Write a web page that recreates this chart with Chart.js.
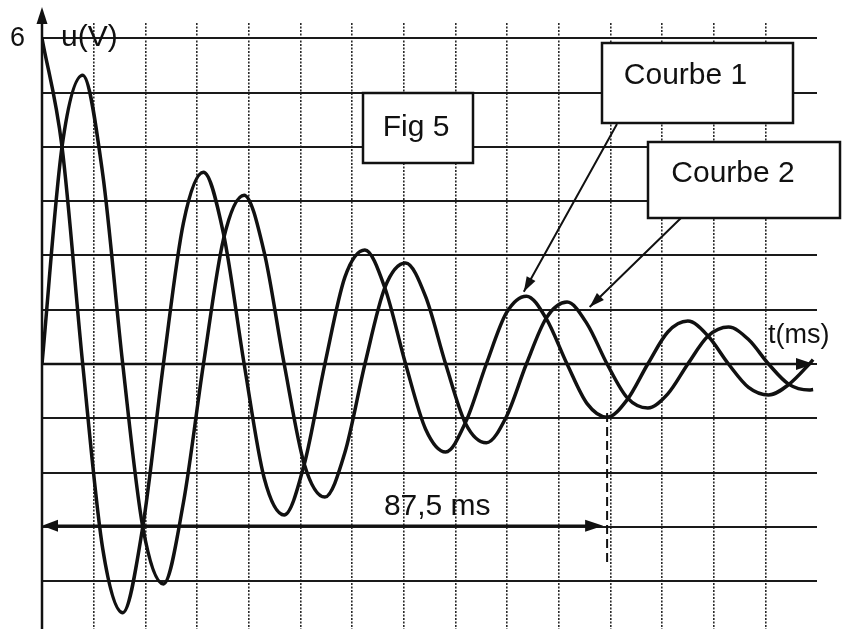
<!DOCTYPE html>
<html>
<head>
<meta charset="utf-8">
<script src="https://cdn.jsdelivr.net/npm/chart.js@4.4.1/dist/chart.umd.min.js"></script>
<style>
  html, body { margin: 0; padding: 0; background: #fff; }
  canvas { display: block; }
</style>
</head>
<body>
<canvas id="myChart" width="844" height="629"></canvas>
<script>
// temps (ms) et tensions
const timeMs = [0, 3.1, 6.3, 9.4, 12.5, 15.6, 18.8, 21.9, 25, 28.1, 31.3, 34.4, 37.5, 40.6, 43.8, 46.9,
    50, 53.1, 56.3, 59.4, 62.5, 65.6, 68.8, 71.9, 75, 78.1, 81.3, 84.4, 87.5, 90.6, 93.8, 96.9,
    100, 103.1, 106.3, 109.4, 112.5, 115.6, 118.8, 119.4];
const courbe1 = [6.0, 4.0, 0, -3.4, -4.58, -3.0, 0, 2.6, 3.53, 2.4, 0, -2.1, -2.78, -1.85, 0, 1.6,
    2.1, 1.4, 0, -1.2, -1.62, -1.07, 0, 0.94, 1.25, 0.83, 0, -0.73, -0.98, -0.66, 0, 0.59,
    0.79, 0.52, 0, -0.43, -0.57, -0.38, 0, 0.08];
const courbe2 = [0, 4.0, 5.32, 3.5, 0, -3.0, -4.05, -2.55, 0, 2.3, 3.11, 2.06, 0, -1.84, -2.45, -1.63,
    0, 1.41, 1.86, 1.24, 0, -1.1, -1.45, -0.97, 0, 0.85, 1.14, 0.74, 0, -0.62, -0.81, -0.55,
    0, 0.51, 0.68, 0.45, 0, -0.37, -0.48, -0.47];
const uTicks = [-4, -3, -2, -1, 0, 1, 2, 3, 4, 5, 6];
const tTicks = [8, 16, 24, 32, 40, 48, 56, 64, 72, 80, 88, 96, 104, 112];
const dureeMs = 87.5;

const FONT = '"Liberation Sans", Arial, sans-serif';
const INK = '#111';

function arrowHead(ctx, x1, y1, x2, y2, len, half) {
    const a = Math.atan2(y2 - y1, x2 - x1);
    ctx.beginPath();
    ctx.moveTo(x2, y2);
    ctx.lineTo(x2 - len * Math.cos(a) + half * Math.sin(a), y2 - len * Math.sin(a) - half * Math.cos(a));
    ctx.lineTo(x2 - len * Math.cos(a) - half * Math.sin(a), y2 - len * Math.sin(a) + half * Math.cos(a));
    ctx.closePath();
    ctx.fill();
}

// cadre blanc avec texte (dx, dy : decalage du texte comme sur le scan)
function box(ctx, x, y, w, h, label, dx, dy) {
    ctx.fillStyle = '#fff';
    ctx.fillRect(x, y, w, h);
    ctx.lineWidth = 2.5;
    ctx.strokeStyle = INK;
    ctx.strokeRect(x, y, w, h);
    ctx.fillStyle = INK;
    ctx.font = '30px ' + FONT;
    ctx.textAlign = 'center';
    ctx.textBaseline = 'middle';
    ctx.fillText(label, x + w / 2 + dx, y + h / 2 + dy);
}

const figure = {
    id: 'figure',
    afterDatasetsDraw(chart) {
        const ctx = chart.ctx;
        const x = chart.scales.x, y = chart.scales.y;
        const x0 = x.getPixelForValue(0), y0 = y.getPixelForValue(0);
        ctx.save();
        ctx.strokeStyle = INK;
        ctx.fillStyle = INK;

        // axe u(V)
        ctx.lineWidth = 2.5;
        ctx.beginPath();
        ctx.moveTo(x0, chart.chartArea.bottom);
        ctx.lineTo(x0, 14);
        ctx.stroke();
        arrowHead(ctx, x0, 40, x0, 7, 17, 5.5);

        // axe t(ms)
        ctx.beginPath();
        ctx.moveTo(x0, y0);
        ctx.lineTo(808, y0);
        ctx.stroke();
        arrowHead(ctx, 780, y0, 814, y0, 18, 6);

        ctx.textAlign = 'left';
        ctx.textBaseline = 'middle';
        ctx.font = '27px ' + FONT;
        ctx.fillText('6', 10, y.getPixelForValue(6));
        ctx.font = '30px ' + FONT;
        ctx.fillText('u(V)', 61, y.getPixelForValue(6));
        ctx.font = '27px ' + FONT;
        ctx.fillText('t(ms)', 768, 336);

        // 87,5 ms
        const xe = x.getPixelForValue(dureeMs);
        const ya = y.getPixelForValue(-2.98);
        ctx.lineWidth = 2.5;
        ctx.beginPath();
        ctx.moveTo(x0 + 6, ya);
        ctx.lineTo(xe - 10, ya);
        ctx.stroke();
        arrowHead(ctx, xe, ya, x0, ya, 16, 6);
        arrowHead(ctx, x0, ya, xe - 4, ya, 18, 6);
        ctx.font = '30px ' + FONT;
        ctx.textAlign = 'center';
        ctx.fillText('87,5 ms', x.getPixelForValue(61.2), y.getPixelForValue(-2.63));

        ctx.lineWidth = 2;
        ctx.setLineDash([9, 5]);
        ctx.beginPath();
        ctx.moveTo(xe, y.getPixelForValue(-0.9));
        ctx.lineTo(xe, y.getPixelForValue(-3.65));
        ctx.stroke();
        ctx.setLineDash([]);

        // fleches vers les courbes
        const c1 = [x.getPixelForValue(74.6), y.getPixelForValue(1.33)];
        const c2 = [x.getPixelForValue(84.8), y.getPixelForValue(1.05)];
        ctx.lineWidth = 2;
        ctx.beginPath();
        ctx.moveTo(617, 124);
        ctx.lineTo(c1[0], c1[1]);
        ctx.moveTo(681, 218);
        ctx.lineTo(c2[0], c2[1]);
        ctx.stroke();
        arrowHead(ctx, 617, 124, c1[0], c1[1], 15, 5);
        arrowHead(ctx, 681, 218, c2[0], c2[1], 15, 5);

        box(ctx, 363, 93, 110, 70, 'Fig 5', -2, 0);
        box(ctx, 602, 43, 191, 80, 'Courbe 1', -12, -7);
        box(ctx, 648, 142, 192, 76, 'Courbe 2', -11, -6);
        ctx.restore();
    }
};

const ctx = document.getElementById('myChart').getContext('2d');
const chart = new Chart(ctx, {
    type: 'line',
    data: {
        datasets: [{
            label: 'Courbe 1',
            data: timeMs.map((t, i) => ({ x: t, y: courbe1[i] })),
            borderColor: INK,
            borderWidth: 3.5,
            pointRadius: 0,
            cubicInterpolationMode: 'monotone',
            fill: false
        }, {
            label: 'Courbe 2',
            data: timeMs.map((t, i) => ({ x: t, y: courbe2[i] })),
            borderColor: INK,
            borderWidth: 3.5,
            pointRadius: 0,
            cubicInterpolationMode: 'monotone',
            fill: false
        }]
    },
    options: {
        responsive: false,
        animation: false,
        layout: { padding: { left: 42, top: 23, right: 27, bottom: 0 } },
        plugins: {
            legend: { display: false },
            tooltip: { enabled: false }
        },
        scales: {
            x: {
                type: 'linear',
                min: 0,
                max: 120,
                afterBuildTicks: s => { s.ticks = tTicks.map(v => ({ value: v })); },
                ticks: { display: false },
                grid: { color: '#2a2a2a', lineWidth: 1.6, drawTicks: false },
                border: { display: false, dash: [2, 1.5] }
            },
            y: {
                type: 'linear',
                min: -4.88,
                max: 6.28,
                afterBuildTicks: s => { s.ticks = uTicks.map(v => ({ value: v })); },
                ticks: { display: false },
                grid: { color: '#1a1a1a', lineWidth: 2, drawTicks: false },
                border: { display: false }
            }
        }
    },
    plugins: [figure]
});
</script>
</body>
</html>
